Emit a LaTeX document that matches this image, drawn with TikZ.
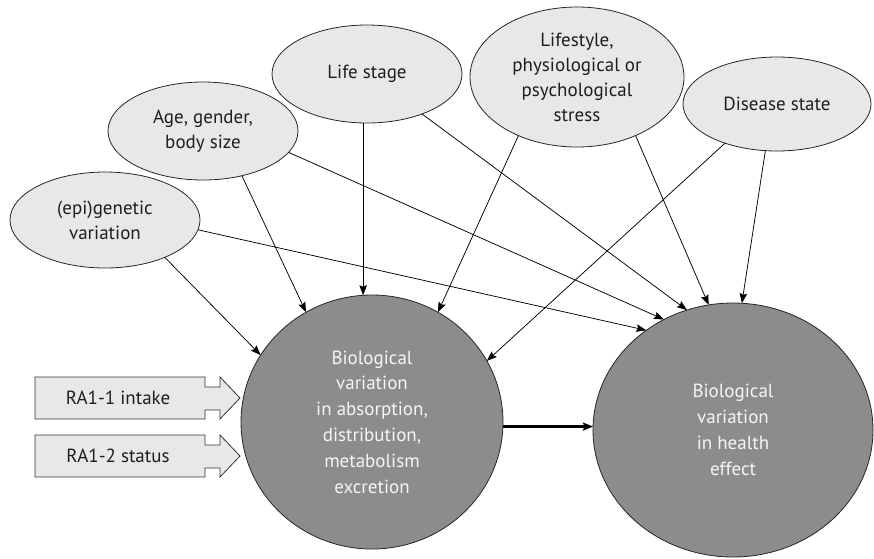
\documentclass[tikz,border=0pt]{standalone}
\usepackage{fontspec}
\setmainfont{PT Sans}
\usetikzlibrary{shapes.geometric,arrows.meta,calc}
\definecolor{lightfill}{RGB}{232,232,232}
\definecolor{biofill}{RGB}{140,140,140}
\definecolor{textdark}{RGB}{30,30,30}
\begin{document}
\begin{tikzpicture}[x=1pt,y=-1pt,
  factor/.style={ellipse,draw=black!85,line width=0.8pt,fill=lightfill,inner sep=0pt,outer sep=0pt,
    align=center,text=textdark,font=\fontsize{19}{25}\selectfont},
  bio/.style={ellipse,draw=black!85,line width=0.8pt,fill=biofill,inner sep=0pt,outer sep=0pt,
    align=center,text=white!96!black,font=\fontsize{19}{25.8}\selectfont},
  link/.style={draw=black,line width=0.75pt,-{Stealth[length=10pt,width=7.5pt,inset=1.5pt]}},
  mainlink/.style={draw=black,line width=2.2pt,-{Stealth[length=10pt,width=8pt,inset=1.5pt]}},
  inbox/.style={draw=black!80,line width=0.8pt,fill=lightfill},
  boxlabel/.style={text=textdark,font=\fontsize{19}{25}\selectfont,inner sep=0pt},
  inarrow/.pic={\path[inbox] (-85,-21) -- (85,-21) -- (85,-11) -- (100,-11) -- (100,-21) -- (120,0)
      -- (100,21) -- (100,12) -- (85,12) -- (85,21) -- (-85,21) -- cycle;}
]
\useasboundingbox (0,0) rectangle (874,558);

% factor ellipses
\node[factor,minimum width=190pt,minimum height=96pt] (E) at (105,220) {(epi)genetic\\variation};
\node[factor,minimum width=190pt,minimum height=98pt] (A) at (203,131) {Age, gender,\\body size};
\node[factor,minimum width=190pt,minimum height=98pt] (S) at (367,74) {Life stage};
\node[factor,minimum width=214pt,minimum height=140pt] (F) at (577,77) {Lifestyle,\\physiological or\\psychological\\stress};
\node[factor,minimum width=188pt,minimum height=94pt] (D) at (777,104) {Disease state};

% biological circles
\node[bio,minimum width=262pt,minimum height=254pt] (L) at (372,422)
  {Biological\\variation\\in absorption,\\distribution,\\metabolism\\excretion};
\node[bio,minimum width=280pt,minimum height=254pt] (R) at (733,430)
  {Biological\\variation\\in health\\effect};

% input arrows
\pic at (120,398) {inarrow};
\node[boxlabel] (in1) at (118,398) {RA1-1 intake};
\pic at (120,456) {inarrow};
\node[boxlabel] (in2) at (118,456) {RA1-2 status};

% connectors
\draw[link] (E.-32) -- (L.149);
\draw[link] (E.-6) -- (R.131);
\draw[link] (A.-49) -- (L.121);
\draw[link] (A.-14.4) -- (R.122);
\draw[link] (S.south -| L.94) -- (L.94);
\draw[link] (S.-36) -- (R.111);
\draw[link] (F.-135) -- (L.59.5);
\draw[link] (F.-45.4) -- (R.101.6);
\draw[link] (D.-143) -- (L.28);
\draw[link] (D.-104.4) -- (R.86);
\draw[mainlink] (L.-2) -- (L.-2 -| R.west);
\end{tikzpicture}
\end{document}
